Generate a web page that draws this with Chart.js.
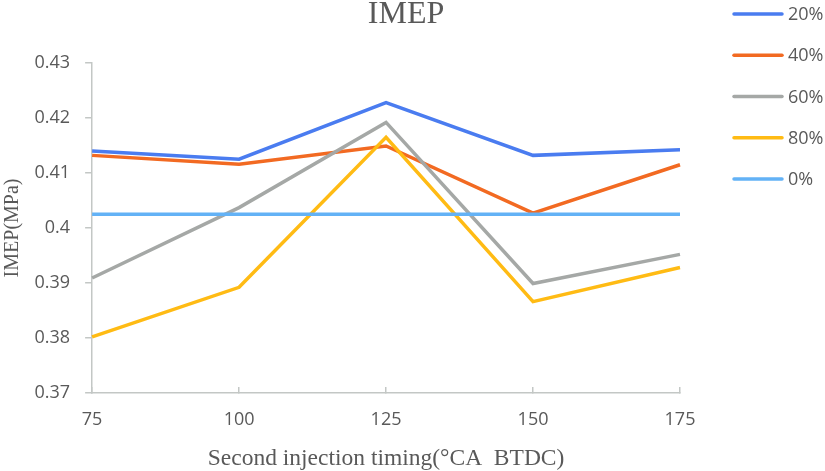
<!DOCTYPE html>
<html>
<head>
<meta charset="utf-8">
<script src="https://cdn.jsdelivr.net/npm/chart.js@4"></script>
<style>
  html, body { margin: 0; padding: 0; background: #ffffff; }
  #wrap { width: 825px; height: 471px; }
</style>
</head>
<body>
<div id="wrap"><canvas id="imep-chart" width="825" height="471"></canvas></div>
<script>
// --- DADOS ---
const timings = ['75', '100', '125', '150', '175'];
const seriesNames = ['20%', '40%', '60%', '80%', '0%'];
const imep20 = [0.4140, 0.4125, 0.4228, 0.4132, 0.4142];
const imep40 = [0.4132, 0.4116, 0.4149, 0.4027, 0.4115];
const imep60 = [0.3909, 0.4037, 0.4192, 0.3899, 0.3952];
const imep80 = [0.3802, 0.3892, 0.4165, 0.3866, 0.3928];
const imep0 = [0.4025, 0.4025, 0.4025, 0.4025, 0.4025];
const yTicks = [0.37, 0.38, 0.39, 0.40, 0.41, 0.42, 0.43];
const chartTitle = 'IMEP';

const colors = ['#4a7cf0', '#f26a22', '#a5a8a6', '#ffbb14', '#63b2f6'];
const textColor = '#595959';
const axisColor = '#c3c7c5';

// título e legenda desenhados à mão, como no original
const sideLegend = {
    id: 'sideLegend',
    afterDraw(chart) {
        const ctx = chart.ctx;
        ctx.save();
        ctx.fillStyle = textColor;
        ctx.font = '32px "Liberation Serif"';
        ctx.textAlign = 'center';
        ctx.textBaseline = 'alphabetic';
        ctx.fillText(chartTitle, 406, 23);

        ctx.textAlign = 'left';
        ctx.font = '18px "Open Sans"';
        ctx.textBaseline = 'middle';
        chart.data.datasets.forEach((ds, i) => {
            const y = 14 + i * 41.25;
            ctx.strokeStyle = ds.borderColor;
            ctx.lineWidth = 3.5;
            ctx.lineCap = 'round';
            ctx.beginPath();
            ctx.moveTo(734, y);
            ctx.lineTo(782, y);
            ctx.stroke();
            ctx.fillText(ds.label, 788, y + 1);
        });
        ctx.restore();
    }
};

const allSeries = [imep20, imep40, imep60, imep80, imep0];
const datasets = allSeries.map((values, i) => ({
    label: seriesNames[i],
    data: values,
    borderColor: colors[i],
    backgroundColor: colors[i],
    borderWidth: 3.5,
    pointRadius: 0,
    tension: 0,
    order: allSeries.length - i
}));

new Chart(document.getElementById('imep-chart'), {
    type: 'line',
    data: { labels: timings, datasets: datasets },
    options: {
        responsive: false,
        animation: false,
        layout: { padding: { left: 0, right: 145, top: 63, bottom: 0 } },
        plugins: {
            legend: { display: false },
            tooltip: { enabled: false },
            title: { display: false }
        },
        scales: {
            x: {
                type: 'category',
                offset: false,
                border: { color: axisColor, width: 1.5 },
                grid: { drawOnChartArea: false, drawTicks: true, tickLength: -6, color: axisColor, lineWidth: 1.5 },
                ticks: { color: textColor, font: { family: '"Open Sans"', size: 18 }, padding: 22 },
                title: {
                    display: true,
                    text: 'Second injection timing(°CA  BTDC)',
                    color: textColor,
                    font: { family: '"Liberation Serif"', size: 23.5, lineHeight: 1 },
                    padding: { top: -5, bottom: 0 }
                }
            },
            y: {
                min: 0.37,
                max: 0.43,
                afterBuildTicks: (scale) => { scale.ticks = yTicks.map(v => ({ value: v })); },
                border: { color: axisColor, width: 1.5 },
                grid: { drawOnChartArea: false, drawTicks: true, tickLength: 7, color: axisColor, lineWidth: 1.5 },
                ticks: {
                    color: textColor,
                    font: { family: '"Open Sans"', size: 18 },
                    padding: 15,
                    callback: (v) => String(+Number(v).toFixed(2))
                },
                title: {
                    display: true,
                    text: 'IMEP(MPa)',
                    color: textColor,
                    font: { family: '"Liberation Serif"', size: 20, lineHeight: 1 },
                    padding: { top: 2.5, bottom: -3 }
                }
            }
        }
    },
    plugins: [sideLegend]
});
</script>
</body>
</html>
